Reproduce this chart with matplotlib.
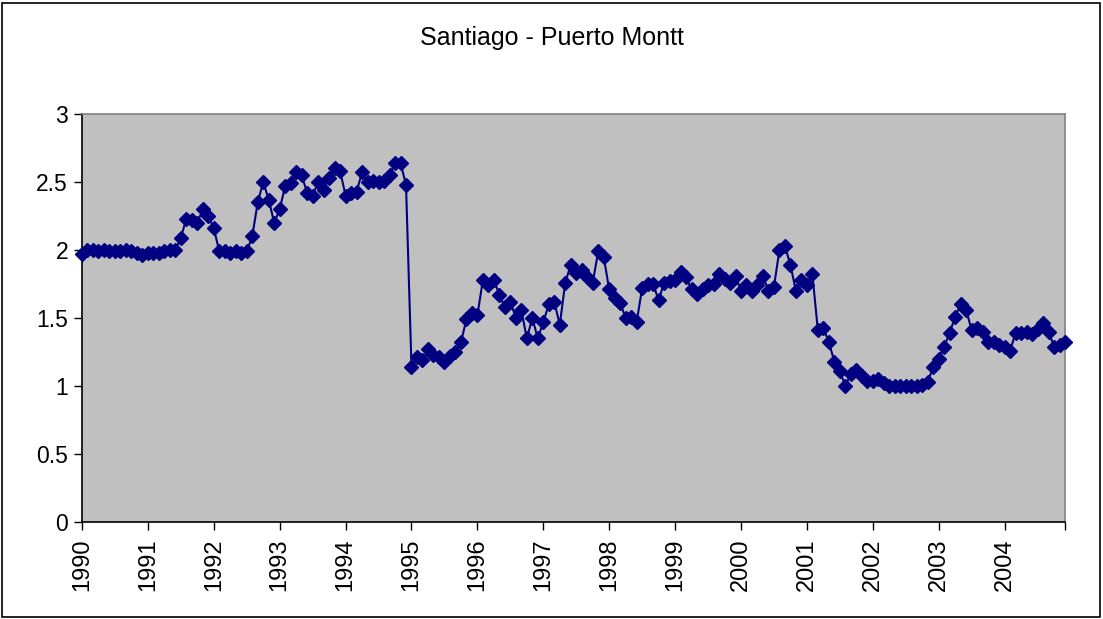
import matplotlib
matplotlib.use("Agg")
import matplotlib.pyplot as plt
from matplotlib.patches import Rectangle

plt.rcParams['font.family'] = ['Liberation Sans', 'DejaVu Sans']

title = "Santiago - Puerto Montt"
years = list(range(1990, 2005))

v1990 = [1.97, 2.00, 2.00, 1.99, 2.00, 1.99, 1.99, 1.99, 2.00, 1.99, 1.98, 1.96]
v1991 = [1.98, 1.98, 1.98, 1.99, 2.00, 2.00, 2.09, 2.23, 2.22, 2.20, 2.30, 2.25]
v1992 = [2.16, 1.99, 1.99, 1.98, 1.99, 1.98, 1.99, 2.10, 2.35, 2.50, 2.37, 2.20]
v1993 = [2.30, 2.47, 2.49, 2.57, 2.55, 2.42, 2.40, 2.50, 2.44, 2.53, 2.60, 2.58]
v1994 = [2.40, 2.42, 2.43, 2.57, 2.50, 2.51, 2.50, 2.51, 2.55, 2.64, 2.64, 2.48]
v1995 = [1.14, 1.21, 1.19, 1.27, 1.23, 1.21, 1.18, 1.22, 1.25, 1.32, 1.49, 1.54]
v1996 = [1.52, 1.78, 1.74, 1.78, 1.67, 1.58, 1.62, 1.50, 1.56, 1.35, 1.50, 1.35]
v1997 = [1.47, 1.60, 1.62, 1.45, 1.76, 1.89, 1.83, 1.85, 1.80, 1.76, 1.99, 1.95]
v1998 = [1.71, 1.65, 1.61, 1.50, 1.51, 1.47, 1.72, 1.75, 1.75, 1.63, 1.76, 1.77]
v1999 = [1.78, 1.84, 1.80, 1.71, 1.68, 1.71, 1.74, 1.75, 1.82, 1.79, 1.76, 1.81]
v2000 = [1.70, 1.74, 1.70, 1.74, 1.81, 1.70, 1.73, 2.00, 2.03, 1.89, 1.70, 1.78]
v2001 = [1.74, 1.82, 1.41, 1.43, 1.32, 1.18, 1.11, 1.00, 1.09, 1.12, 1.07, 1.04]
v2002 = [1.04, 1.05, 1.02, 1.00, 1.00, 1.00, 1.00, 1.00, 1.00, 1.01, 1.03, 1.14]
v2003 = [1.20, 1.29, 1.39, 1.51, 1.60, 1.56, 1.41, 1.43, 1.40, 1.32, 1.32, 1.30]
v2004 = [1.29, 1.26, 1.39, 1.39, 1.40, 1.38, 1.42, 1.46, 1.40, 1.29, 1.30, 1.32]

values = (v1990 + v1991 + v1992 + v1993 + v1994 + v1995 + v1996 + v1997 +
          v1998 + v1999 + v2000 + v2001 + v2002 + v2003 + v2004)
x = list(range(len(values)))

W, H = 1103, 619
fig = plt.figure(figsize=(W / 100, H / 100), dpi=100)
fig.patch.set_facecolor('white')
fig.patches.append(Rectangle((2 / W, 2 / H), (W - 5) / W, (H - 5) / H,
                             transform=fig.transFigure, fill=False,
                             edgecolor='black', linewidth=1.2))

ax = fig.add_axes([82 / W, 1 - 522 / H, (1065 - 82) / W, (522 - 114) / H])
ax.set_facecolor('#C0C0C0')
ax.plot(x, values, color='#000080', linewidth=1.5, marker='D',
        markersize=7, markerfacecolor='#000080', markeredgecolor='#000080',
        clip_on=False, zorder=5)

ax.set_xlim(0, len(values) - 1)
ax.set_ylim(0, 3)
ax.set_yticks([0, 0.5, 1, 1.5, 2, 2.5, 3])
ax.set_yticklabels(['0', '0.5', '1', '1.5', '2', '2.5', '3'], fontsize=16.5)
xt = [12 * k for k in range(len(years))] + [len(values) - 1]
ax.set_xticks(xt)
ax.set_xticklabels([str(y) for y in years] + [''], rotation=90, fontsize=17)
ax.tick_params(axis='both', direction='out', length=6, width=1, color='black', pad=4)
ax.tick_params(axis='x', pad=6)

for s in ['left', 'bottom']:
    ax.spines[s].set_color('black')
    ax.spines[s].set_linewidth(1.2)
for s in ['top', 'right']:
    ax.spines[s].set_color('#808080')
    ax.spines[s].set_linewidth(1.2)

fig.text(0.5, 1 - 38 / H, title, ha='center', va='center', fontsize=18)

fig.savefig('out.png', dpi=100, facecolor='white')
